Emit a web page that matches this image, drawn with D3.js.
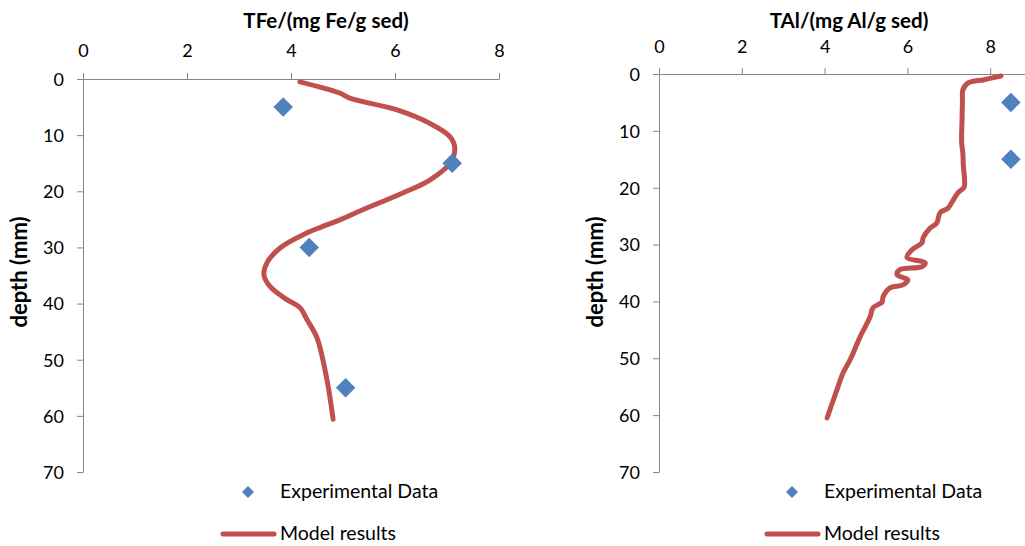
<!DOCTYPE html>
<html>
<head>
<meta charset="utf-8">
<script src="https://cdn.jsdelivr.net/npm/d3@7"></script>
<style>
  html, body { margin: 0; padding: 0; background: #fff; }
  svg { display: block; font-family: Lato, "Open Sans", sans-serif; }
  .axis path, .axis line { stroke: #868686; stroke-width: 1; }
  .axis text { fill: #000; font-size: 18px; font-family: Lato, sans-serif; }
</style>
</head>
<body>
<svg id="chart" width="1025" height="546"></svg>
<script>
// ---- Iron panel ----
const feExpDepth = [5, 15, 30, 55];
const feExpValue = [3.85, 7.1, 4.35, 5.05];
const feModelDepth = [0.5, 2.5, 3.4, 5.5, 7.9, 10.3, 12.3, 15, 18, 20.3, 23.3, 25.1, 26.3, 27.4, 30.1, 32.7, 34.9, 37, 39.3, 40.7, 42.9, 46.1, 53.5, 60.6];
const feModelValue = [4.17, 4.94, 5.13, 6.04, 6.67, 7.06, 7.15, 7.06, 6.67, 6.15, 5.38, 4.94, 4.6, 4.31, 3.79, 3.54, 3.48, 3.6, 3.92, 4.17, 4.31, 4.5, 4.69, 4.81];

// ---- Aluminium panel ----
const alExpDepth = [5, 15];
const alExpValue = [8.5, 8.5];
const alModelDepth = [0.35, 1.0, 1.6, 2.8, 4.6, 8, 12, 14, 16, 18.6, 19.9, 20.9, 22.5, 23.6, 24.4, 26.2, 27.1, 28.8, 29.7, 30.9, 32.3, 33.2, 33.9, 34.4, 35.3, 36.2, 37.1, 37.6, 39.2, 40.1, 41.1, 42.7, 46.2, 50.2, 52.5, 55.5, 60.5];
const alModelValue = [8.26, 7.85, 7.46, 7.34, 7.33, 7.32, 7.31, 7.34, 7.35, 7.38, 7.37, 7.22, 7.08, 6.98, 6.79, 6.71, 6.55, 6.38, 6.35, 6.11, 5.99, 6.43, 6.35, 5.82, 5.75, 6.01, 5.89, 5.58, 5.41, 5.39, 5.17, 5.10, 4.86, 4.62, 4.45, 4.30, 4.06];

// ---- Axis ticks and labels ----
const xTicks = [0, 2, 4, 6, 8];
const depthTicks = [0, 10, 20, 30, 40, 50, 60, 70];
const feTitle = "TFe/(mg Fe/g sed)";
const alTitle = "TAl/(mg Al/g sed)";
const depthLabel = "depth (mm)";
const legendLabels = ["Experimental Data", "Model results"];

const markerColor = "#4F81BD";
const lineColor = "#C0504D";

const svg = d3.select("#chart");

function drawPanel(p) {
  const g = svg.append("g");
  const x = d3.scaleLinear().domain(p.xDomain).range([p.x0, p.x1]);
  const y = d3.scaleLinear().domain([0, 70]).range([p.y0, p.y1]);

  // top value axis (the aluminium axis runs on past the last labelled tick)
  g.append("g")
    .attr("class", "axis")
    .attr("transform", `translate(0,${p.y0})`)
    .call(d3.axisTop(x).tickValues(xTicks).tickSize(6).tickSizeOuter(0).tickFormat(d3.format("d")))
    .call(a => a.selectAll("text").attr("dy", 0).attr("y", p.xLabelOffset));

  // left depth axis
  g.append("g")
    .attr("class", "axis")
    .attr("transform", `translate(${p.x0},0)`)
    .call(d3.axisLeft(y).tickValues(depthTicks).tickSize(6).tickSizeOuter(0).tickFormat(d3.format("d")))
    .call(a => a.selectAll("text").attr("x", -19).attr("dy", "0.35em"));

  // titles
  g.append("text")
    .attr("x", p.titleX).attr("y", 28)
    .attr("text-anchor", "middle")
    .attr("font-weight", "bold").attr("font-size", 20.5)
    .text(p.title);

  g.append("text")
    .attr("transform", `translate(${p.labelX},272) rotate(-90)`)
    .attr("text-anchor", "middle")
    .attr("font-weight", "bold").attr("font-size", 22)
    .text(depthLabel);

  // model curve
  const modelPts = p.modelDepth.map((d, i) => [p.modelValue[i], d]);
  const line = d3.line()
    .x(d => x(d[0]))
    .y(d => y(d[1]))
    .curve(d3.curveCatmullRom.alpha(0.5));
  g.append("path")
    .datum(modelPts)
    .attr("fill", "none")
    .attr("stroke", lineColor)
    .attr("stroke-width", 5)
    .attr("stroke-linecap", "round")
    .attr("stroke-linejoin", "round")
    .attr("d", line);

  // experimental points
  const diamond = d3.symbol().type(d3.symbolSquare).size(190);
  g.selectAll(".pt")
    .data(p.expDepth.map((d, i) => [p.expValue[i], d]))
    .join("path")
    .attr("class", "pt")
    .attr("d", diamond)
    .attr("fill", markerColor)
    .attr("transform", d => `translate(${x(d[0])},${y(d[1])}) rotate(45)`);

  // legend
  const lg = g.append("g");
  lg.append("path")
    .attr("d", d3.symbol().type(d3.symbolSquare).size(72))
    .attr("fill", markerColor)
    .attr("transform", `translate(${p.legendX - 32},492) rotate(45)`);
  lg.append("text")
    .attr("x", p.legendX).attr("y", 498)
    .attr("font-size", 19.5)
    .text(legendLabels[0]);
  lg.append("line")
    .attr("x1", p.legendX - 57).attr("x2", p.legendX - 6)
    .attr("y1", 534).attr("y2", 534)
    .attr("stroke", lineColor).attr("stroke-width", 5)
    .attr("stroke-linecap", "round");
  lg.append("text")
    .attr("x", p.legendX).attr("y", 540)
    .attr("font-size", 19.5)
    .text(legendLabels[1]);
}

drawPanel({
  xDomain: [0, 8], x0: 83, x1: 499, y0: 79, y1: 472, xLabelOffset: -22,
  title: feTitle, titleX: 326, labelX: 27, legendX: 280,
  expDepth: feExpDepth, expValue: feExpValue,
  modelDepth: feModelDepth, modelValue: feModelValue
});

drawPanel({
  xDomain: [0, 10], x0: 659, x1: 1073, y0: 74, y1: 472, xLabelOffset: -21,
  title: alTitle, titleX: 849, labelX: 603, legendX: 824,
  expDepth: alExpDepth, expValue: alExpValue,
  modelDepth: alModelDepth, modelValue: alModelValue
});
</script>
</body>
</html>
